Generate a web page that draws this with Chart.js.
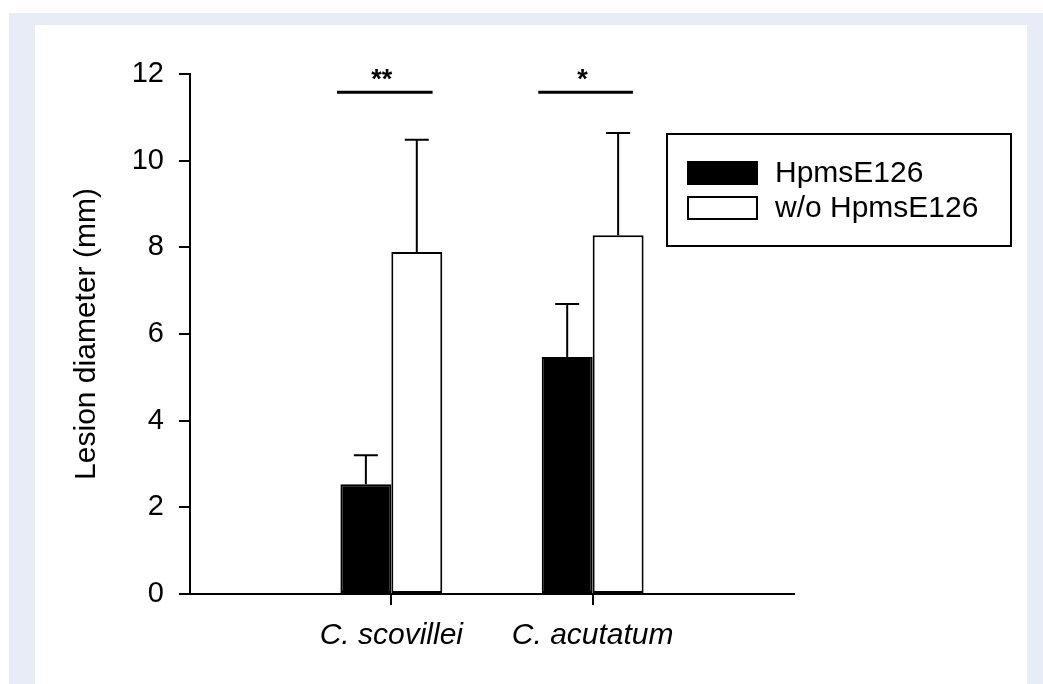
<!DOCTYPE html>
<html>
<head>
<meta charset="utf-8">
<script src="https://cdn.jsdelivr.net/npm/chart.js@4/dist/chart.umd.min.js"></script>
<style>
  body { margin: 0; background: #fff; width: 1043px; height: 684px; overflow: hidden; position: relative; }
  #frame { position: absolute; left: 9px; top: 13px; right: 0; bottom: 0; background: #e8ecf6; }
  #panel { position: absolute; left: 26px; top: 12px; width: 992px; bottom: -20px; background: #fff; }
  #chartBox { position: absolute; left: 0; top: 0; width: 1043px; height: 684px; }
</style>
</head>
<body>
<div id="frame"><div id="panel"></div></div>
<div id="chartBox"><canvas id="myChart" width="1043" height="684"></canvas></div>
<script>
// categories sit at x = 1 and 2 on a 0..3 axis
let categories = ["C. scovillei", "C. acutatum"];
let catPositions = [1, 2];
let seriesLabels = ["HpmsE126", "w/o HpmsE126"];

let withMeans = [2.53, 5.47];
let withErrors = [0.67, 1.22];
let withoutMeans = [7.89, 8.28];
let withoutErrors = [2.59, 2.36];

let yTicks = [0, 2, 4, 6, 8, 10, 12];

// significance brackets
let sigLabels = ["**", "*"];
let sigFrom = [0.73, 1.73];
let sigTo = [1.205, 2.2];
let sigLevel = [11.58, 11.58];

const fontFamily = "'Liberation Sans', Arial, sans-serif";

function toPoints(values) {
  let points = [];
  for (let i = 0; i < values.length; i++) {
    points.push({ x: catPositions[i], y: values[i] });
  }
  return points;
}

const errorBarPlugin = {
  id: "errorBars",
  afterDatasetsDraw(chart) {
    let ctx = chart.ctx;
    let yScale = chart.scales.y;
    let allErrors = [withErrors, withoutErrors];
    let allMeans = [withMeans, withoutMeans];
    ctx.save();
    ctx.strokeStyle = "#000";
    ctx.lineWidth = 2;
    for (let d = 0; d < chart.data.datasets.length; d++) {
      let meta = chart.getDatasetMeta(d);
      for (let i = 0; i < meta.data.length; i++) {
        let bar = meta.data[i];
        let yBottom = yScale.getPixelForValue(allMeans[d][i]);
        let yTop = yScale.getPixelForValue(allMeans[d][i] + allErrors[d][i]);
        ctx.beginPath();
        ctx.moveTo(bar.x, yBottom);
        ctx.lineTo(bar.x, yTop);
        ctx.moveTo(bar.x - 12, yTop);
        ctx.lineTo(bar.x + 12, yTop);
        ctx.stroke();
      }
    }
    ctx.restore();
  },
};

const significancePlugin = {
  id: "significance",
  afterDraw(chart) {
    let ctx = chart.ctx;
    let xScale = chart.scales.x;
    let yScale = chart.scales.y;
    ctx.save();
    ctx.strokeStyle = "#000";
    ctx.fillStyle = "#000";
    ctx.lineWidth = 3;
    ctx.font = `bold 27px ${fontFamily}`;
    ctx.textAlign = "center";
    ctx.textBaseline = "alphabetic";
    for (let i = 0; i < sigLabels.length; i++) {
      let x1 = xScale.getPixelForValue(sigFrom[i]);
      let x2 = xScale.getPixelForValue(sigTo[i]);
      let y = yScale.getPixelForValue(sigLevel[i]);
      ctx.beginPath();
      ctx.moveTo(x1, y);
      ctx.lineTo(x2, y);
      ctx.stroke();
      ctx.fillText(sigLabels[i], (x1 + x2) / 2 - 3, y - 4);
    }
    ctx.restore();
  },
};

const boxLegendPlugin = {
  id: "boxLegend",
  afterDraw(chart) {
    let ctx = chart.ctx;
    let datasets = chart.data.datasets;
    ctx.save();
    ctx.lineWidth = 2;
    ctx.strokeStyle = "#000";
    ctx.strokeRect(667, 134, 344, 112);
    ctx.font = `30px ${fontFamily}`;
    ctx.textAlign = "left";
    ctx.textBaseline = "middle";
    for (let i = 0; i < datasets.length; i++) {
      let top = 162 + i * 35;
      ctx.fillStyle = datasets[i].backgroundColor;
      ctx.fillRect(688, top, 69, 22);
      ctx.strokeRect(688, top, 69, 22);
      ctx.fillStyle = "#000";
      ctx.fillText(datasets[i].label, 775, top + 12);
    }
    ctx.restore();
  },
};

const ctx = document.getElementById("myChart");

new Chart(ctx, {
  type: "bar",
  data: {
    datasets: [
      {
        label: seriesLabels[0],
        data: toPoints(withMeans),
        backgroundColor: "#000000",
        borderColor: "#000000",
        borderWidth: 2,
        borderSkipped: false,
      },
      {
        label: seriesLabels[1],
        data: toPoints(withoutMeans),
        backgroundColor: "#ffffff",
        borderColor: "#000000",
        borderWidth: 2,
        borderSkipped: false,
      },
    ],
  },
  options: {
    responsive: false,
    animation: false,
    categoryPercentage: 0.506,
    barPercentage: 1,
    layout: {
      padding: { left: 0, right: 249, top: 74, bottom: 0 },
    },
    scales: {
      x: {
        type: "linear",
        min: 0,
        max: 3,
        offset: false,
        afterBuildTicks: (scale) => {
          scale.ticks = catPositions.map((v) => ({ value: v }));
        },
        afterFit: (scale) => {
          scale.height = 90;
        },
        ticks: {
          color: "#000",
          padding: 13,
          maxRotation: 0,
          autoSkip: false,
          font: { family: fontFamily, size: 30, style: "italic" },
          callback: (value) => categories[catPositions.indexOf(value)],
        },
        grid: {
          offset: false,
          drawOnChartArea: false,
          color: "#000",
          lineWidth: 2,
          tickLength: 11,
        },
        border: { color: "#000", width: 2 },
      },
      y: {
        min: 0,
        max: 12,
        afterBuildTicks: (scale) => {
          scale.ticks = yTicks.map((v) => ({ value: v }));
        },
        afterFit: (scale) => {
          scale.width = 190;
        },
        ticks: {
          color: "#000",
          padding: 15,
          font: { family: fontFamily, size: 29 },
        },
        grid: {
          drawOnChartArea: false,
          color: "#000",
          lineWidth: 2,
          tickLength: 11,
        },
        border: { color: "#000", width: 2 },
        title: {
          display: true,
          text: "Lesion diameter (mm)",
          color: "#000",
          padding: { top: 69, bottom: 0 },
          font: { family: fontFamily, size: 30 },
        },
      },
    },
    plugins: {
      legend: { display: false },
      tooltip: { enabled: false },
    },
  },
  plugins: [errorBarPlugin, significancePlugin, boxLegendPlugin],
});
</script>
</body>
</html>
